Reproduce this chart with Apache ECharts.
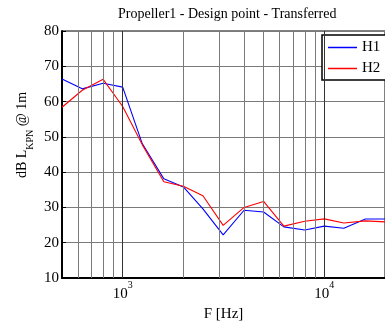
<!DOCTYPE html>
<html>
<head>
<meta charset="utf-8">
<script src="https://cdn.jsdelivr.net/npm/echarts@6/dist/echarts.min.js"></script>
<style>html,body{margin:0;padding:0;background:#fff}#c{width:385px;height:327px}</style>
</head>
<body>
<div id="c"></div>
<script>
var freqs = [500, 630, 800, 1000, 1250, 1600, 2000, 2500, 3150, 4000, 5000, 6300, 8000, 10000, 12500, 16000, 20000];
var H1 = [66.4, 63.6, 65.2, 64.1, 48.1, 38.1, 35.8, 29.6, 22.2, 29.2, 28.7, 24.5, 23.6, 24.7, 24.1, 26.7, 26.7];
var H2 = [58.4, 63.2, 66.3, 58.6, 47.8, 37.3, 36.0, 33.3, 24.9, 30.0, 31.7, 24.7, 26.1, 26.75, 25.6, 26.2, 25.9];
var minorGrid = [600, 700, 800, 900, 2000, 3000, 4000, 5000, 6000, 7000, 8000, 9000];
var majorGrid = [1000, 10000];
var yTicks = [10, 20, 30, 40, 50, 60, 70, 80];
var titleText = 'Propeller1 - Design point - Transferred';

var FONT = "'Liberation Serif', 'DejaVu Serif', serif";
function pairs(xs, ys) { return xs.map(function (x, i) { return [x, ys[i]]; }); }

var chart = echarts.init(document.getElementById('c'), null, { renderer: 'canvas' });
chart.setOption({
  animation: false,
  backgroundColor: '#fff',
  title: {
    text: titleText, left: 118, top: 7, padding: 0,
    textStyle: { fontFamily: FONT, fontSize: 14, fontWeight: 'normal', color: '#000' }
  },
  grid: { left: 62, top: 31, right: -5, bottom: 46, show: true, borderColor: '#000', borderWidth: 1, backgroundColor: 'transparent' },
  legend: {
    data: [{ name: 'H1', icon: 'rect' }, { name: 'H2', icon: 'rect' }],
    orient: 'vertical', left: 322, top: 35,
    padding: [5, 6, 4, 6], itemWidth: 29, itemHeight: 1.5, itemGap: 6,
    backgroundColor: '#fff', borderColor: '#000', borderWidth: 1.5,
    textStyle: { fontFamily: FONT, fontSize: 15, color: '#000', lineHeight: 15 }
  },
  xAxis: {
    type: 'log', logBase: 10, min: 500, max: 20000,
    name: 'F [Hz]', nameLocation: 'middle', nameGap: 29,
    nameTextStyle: { fontFamily: FONT, fontSize: 15, color: '#000' },
    axisLine: { show: true, lineStyle: { color: '#000', width: 2 } },
    axisTick: { show: true, inside: true, length: 4, lineStyle: { color: '#000' } },
    splitLine: { show: false },
    axisLabel: {
      margin: 2, showMinLabel: false, showMaxLabel: false,
      formatter: function (v) {
        var e = Math.round(Math.log10(v));
        if (Math.abs(Math.log10(v) - e) > 1e-6 || (e !== 3 && e !== 4)) return '';
        return '{base|10}{sup|' + e + '}';
      },
      rich: {
        base: { fontFamily: FONT, fontSize: 15, color: '#000', verticalAlign: 'bottom', lineHeight: 22 },
        sup: { fontFamily: FONT, fontSize: 10, color: '#000', verticalAlign: 'top', lineHeight: 22 }
      }
    }
  },
  yAxis: {
    type: 'value', min: yTicks[0], max: yTicks[yTicks.length - 1], interval: 10,
    axisLine: { show: true, lineStyle: { color: '#000', width: 2 } },
    axisTick: { show: true, inside: true, length: 4, lineStyle: { color: '#000' } },
    axisLabel: { margin: 3, fontFamily: FONT, fontSize: 15, color: '#000' },
    splitLine: { show: true, lineStyle: { color: '#7a7a7a', width: 1 } }
  },
  graphic: [{
    type: 'text', x: 25, y: 135, rotation: Math.PI / 2, z: 10,
    style: {
      text: '{m|dB L}{s|KPN}{m| @ 1m}',
      align: 'center', verticalAlign: 'middle',
      rich: {
        m: { fontFamily: FONT, fontSize: 14, color: '#000', verticalAlign: 'top', lineHeight: 20 },
        s: { fontFamily: FONT, fontSize: 10, color: '#000', verticalAlign: 'bottom', lineHeight: 20 }
      }
    }
  }],
  series: [
    {
      name: 'gridlines', type: 'line', data: [], silent: true, z: 1,
      markLine: {
        silent: true, symbol: ['none', 'none'], label: { show: false }, animation: false,
        data: minorGrid.map(function (f) { return { xAxis: f, lineStyle: { color: '#7a7a7a', width: 1, type: 'solid' } }; })
          .concat(majorGrid.map(function (f) { return { xAxis: f, lineStyle: { color: '#333', width: 1, type: 'solid' } }; }))
      }
    },
    {
      name: 'H1', type: 'line', data: pairs(freqs, H1), symbol: 'none', z: 3,
      lineStyle: { color: '#0000ff', width: 1.1 }, itemStyle: { color: '#0000ff' }
    },
    {
      name: 'H2', type: 'line', data: pairs(freqs, H2), symbol: 'none', z: 4,
      lineStyle: { color: '#ff0000', width: 1.1 }, itemStyle: { color: '#ff0000' }
    }
  ]
});
</script>
</body>
</html>
